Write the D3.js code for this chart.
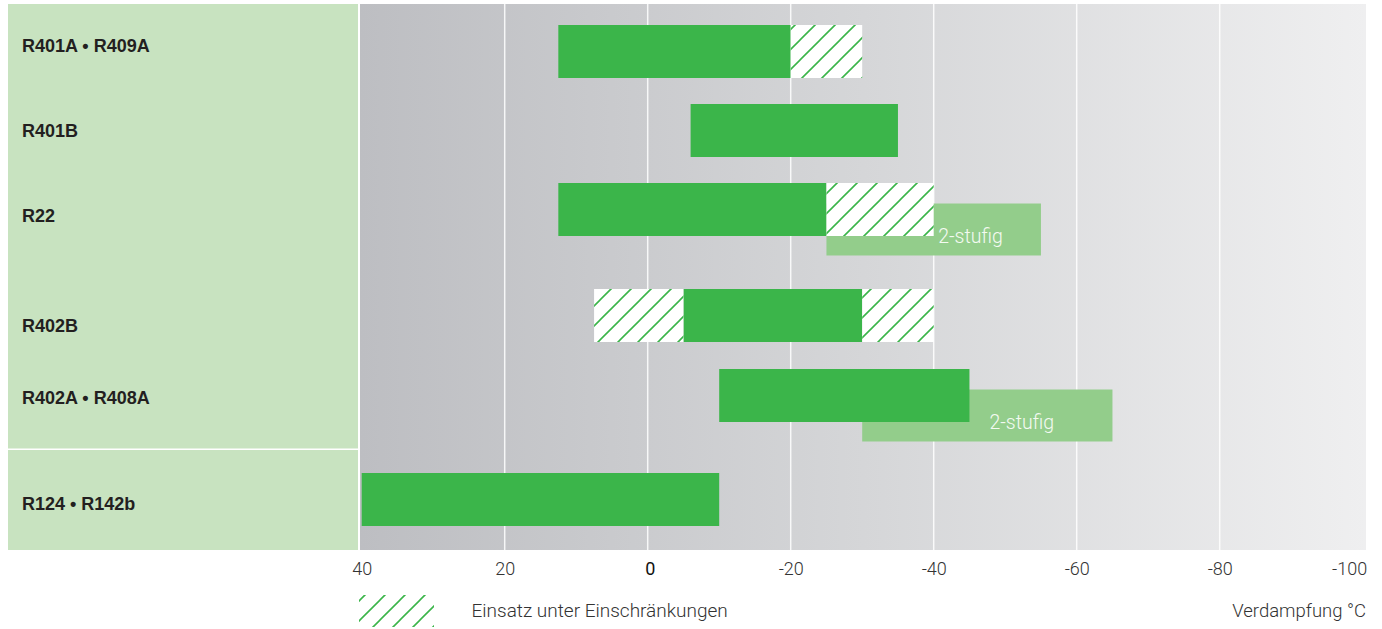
<!DOCTYPE html>
<html><head><meta charset="utf-8">
<script src="https://cdn.jsdelivr.net/npm/d3@7"></script>
<style>body{margin:0;background:#fff}svg{display:block}</style>
</head><body>
<script>
// ---- data ----
const categories = ["R401A • R409A","R401B","R22","R402B","R402A • R408A","R124 • R142b"];
const solidFrom = [12.5, -6, 12.5, -5, -10, 40];
const solidTo   = [-20, -35, -25, -30, -45, -10];
const hatchCategory = ["R401A • R409A","R22","R402B","R402B"];
const hatchFrom = [-20, -25, 7.5, -30];
const hatchTo   = [-30, -40, -5, -40];
const twoStageCategory = ["R22","R402A • R408A"];
const twoStageFrom = [-25, -30];
const twoStageTo   = [-55, -65];
const twoStageLabel = ["2-stufig","2-stufig"];
const tickValues = [40,20,0,-20,-40,-60,-80,-100];
const legendLabel = "Einsatz unter Einschränkungen";
const axisTitle = "Verdampfung °C";

// ---- layout ----
const W = 1382, H = 629;
const plotL = 360, plotR = 1366, plotT = 4, plotB = 550;
const rowTop = [25,104,183,289,369,473];
const labelBase = [52,136.5,221.5,331.5,404,510];
const barH = 53;
const green = "#3bb54a", lightGreen = "#93cd8b", panel = "#c8e3c0";

const x = d3.scaleLinear().domain([40,-100]).range([361.7,1362.7]);
const rowIndex = c => categories.indexOf(c);

const svg = d3.select("body").append("svg").attr("width",W).attr("height",H);
const defs = svg.append("defs");
const grad = defs.append("linearGradient").attr("id","bg").attr("x1","0").attr("x2","1").attr("y1","0").attr("y2","0");
grad.append("stop").attr("offset","0").attr("stop-color","#bdbec2");
grad.append("stop").attr("offset","0.5").attr("stop-color","#d5d6d8");
grad.append("stop").attr("offset","1").attr("stop-color","#efeff0");
const pat = defs.append("pattern").attr("id","hatch").attr("patternUnits","userSpaceOnUse")
  .attr("width",20).attr("height",20);
pat.append("path").attr("d","M0,20 L20,0 M-5,5 L5,-5 M15,25 L25,15")
  .attr("stroke",green).attr("stroke-width",1.6).attr("fill","none");

// label panel
svg.append("rect").attr("x",8).attr("y",plotT).attr("width",350).attr("height",plotB-plotT).attr("fill",panel);
svg.append("line").attr("x1",8).attr("x2",358).attr("y1",449.3).attr("y2",449.3).attr("stroke","#fff").attr("stroke-width",1.6);

// plot background
svg.append("rect").attr("x",plotL).attr("y",plotT).attr("width",plotR-plotL).attr("height",plotB-plotT).attr("fill","url(#bg)");

// gridlines
svg.append("g").selectAll("line").data(tickValues.filter(v=>v<40 && v>-100)).join("line")
  .attr("x1",d=>x(d)).attr("x2",d=>x(d)).attr("y1",plotT).attr("y2",plotB)
  .attr("stroke","#ffffff").attr("stroke-opacity",0.85).attr("stroke-width",1.5);

// two-stage bars (behind)
const ts = twoStageCategory.map((c,i)=>({r:rowIndex(c),from:twoStageFrom[i],to:twoStageTo[i],label:twoStageLabel[i]}));
svg.append("g").selectAll("rect").data(ts).join("rect")
  .attr("x",d=>x(d.from)).attr("width",d=>x(d.to)-x(d.from))
  .attr("y",d=>rowTop[d.r]+20.5).attr("height",52)
  .attr("fill",lightGreen);

// solid bars
svg.append("g").selectAll("rect").data(categories.map((c,i)=>({r:i,from:solidFrom[i],to:solidTo[i]}))).join("rect")
  .attr("x",d=>x(d.from)).attr("width",d=>x(d.to)-x(d.from))
  .attr("y",d=>rowTop[d.r]).attr("height",barH).attr("fill",green);

// hatched bars
const hs = hatchCategory.map((c,i)=>({r:rowIndex(c),from:hatchFrom[i],to:hatchTo[i]}));
const hg = svg.append("g");
hg.selectAll("rect.w").data(hs).join("rect").attr("class","w")
  .attr("x",d=>x(d.from)).attr("width",d=>x(d.to)-x(d.from))
  .attr("y",d=>rowTop[d.r]).attr("height",barH).attr("fill","#fff");
hg.selectAll("rect.h").data(hs).join("rect").attr("class","h")
  .attr("x",d=>x(d.from)).attr("width",d=>x(d.to)-x(d.from))
  .attr("y",d=>rowTop[d.r]).attr("height",barH).attr("fill","url(#hatch)");

// two-stage labels: placed after the end of the row's main (solid or hatched) range
const rowEnd = r => {
  let m = solidTo[r];
  hatchCategory.forEach((c,i)=>{ if (rowIndex(c)===r) m = Math.min(m, hatchTo[i]); });
  return m;
};
const tsOffset = [4.5, 20];
svg.append("g").selectAll("text").data(ts).join("text")
  .attr("x",(d,i)=>x(rowEnd(d.r)) + tsOffset[i])
  .attr("y",d=>rowTop[d.r]+20.5+39.5)
  .attr("fill","#f4faf2").attr("font-family","Roboto").attr("font-weight",300)
  .attr("font-size",19.5).text(d=>d.label);

// category labels
svg.append("g").selectAll("text").data(categories).join("text")
  .attr("x",22).attr("y",(d,i)=>labelBase[i])
  .attr("font-family","Liberation Sans, Arial, sans-serif").attr("font-weight","bold")
  .attr("font-size",18).attr("fill","#231f20").text(d=>d);

// axis
const axis = d3.axisBottom(x).tickValues(tickValues).tickSize(0).tickPadding(0).tickFormat(d=>String(d));
const ag = svg.append("g").attr("transform",`translate(0,${plotB})`).call(axis);
ag.select(".domain").remove();
ag.selectAll("text").attr("dy",0).attr("y",25)
  .attr("font-family","Roboto").attr("font-weight",d=>d===0?400:300).attr("font-size",18)
  .attr("fill",d=>d===0?"#111":"#333")
  .attr("text-anchor",d=>d===-100?"end":"middle")
  .attr("dx",d=>d===-100?4:(d===0?2:0));

// legend
svg.append("rect").attr("x",359).attr("y",595).attr("width",75).attr("height",32).attr("fill","url(#hatch)");
svg.append("text").attr("x",471.5).attr("y",617).attr("font-family","Roboto").attr("font-weight",300)
  .attr("font-size",19).attr("fill","#333").text(legendLabel);
svg.append("text").attr("x",1366).attr("y",617).attr("text-anchor","end").attr("font-family","Roboto").attr("font-weight",300)
  .attr("font-size",18.5).attr("fill","#333").text(axisTitle);
</script>
</body></html>
